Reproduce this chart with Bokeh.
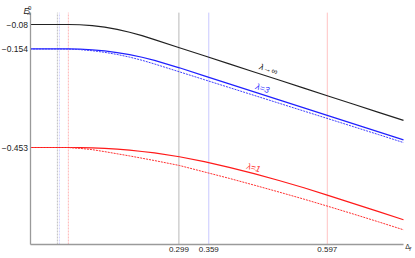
from bokeh.plotting import figure
from bokeh.models import Range1d, FixedTicker, Label
from bokeh.core.properties import value
from bokeh.embed import file_html
from bokeh.resources import INLINE

# ---- data ----
delta_f = [0, 0.055, 0.077, 0.1, 0.125, 0.15, 0.175, 0.2, 0.225, 0.25, 0.3, 0.35, 0.4, 0.45, 0.5, 0.55, 0.6, 0.65, 0.7, 0.75]
e_inf = [-0.08, -0.08, -0.08, -0.0808, -0.0836, -0.0882, -0.0948, -0.1034, -0.1139, -0.1259, -0.1504, -0.1749,
         -0.1994, -0.2239, -0.2484, -0.2729, -0.2974, -0.3219, -0.3464, -0.3709]
e_3 = [-0.154, -0.154, -0.154, -0.1546, -0.1567, -0.1602, -0.1651, -0.1715, -0.1793, -0.1886, -0.2113, -0.2356,
       -0.2599, -0.2842, -0.3085, -0.3328, -0.3571, -0.3814, -0.4057, -0.43]
e_3_dash = [-0.154, -0.154, -0.1544, -0.1561, -0.1595, -0.1644, -0.1708, -0.1789, -0.1885, -0.1997, -0.2235, -0.2473,
            -0.2711, -0.2949, -0.3187, -0.3425, -0.3663, -0.3901, -0.4139, -0.438]
e_1 = [-0.453, -0.453, -0.453, -0.4533, -0.4542, -0.4557, -0.4578, -0.461, -0.465, -0.469, -0.481, -0.496,
       -0.513, -0.532, -0.553, -0.575, -0.599, -0.623, -0.6475, -0.672]
e_1_dash = [-0.453, -0.453, -0.453, -0.4555, -0.4595, -0.4655, -0.472, -0.4785, -0.4855, -0.4925, -0.5075, -0.527,
            -0.5465, -0.567, -0.588, -0.6095, -0.632, -0.655, -0.6785, -0.7025]

y_ticks = [-0.08, -0.154, -0.453]
y_tick_labels = ["\u22120.08", "\u22120.154", "\u22120.453"]
x_ticks = [0.299, 0.359, 0.597]
x_tick_labels = ["0.299", "0.359", "0.597"]

x_axis_extent = [0, 0.75]
y_axis_extent = [-0.747, -0.044]

solid_marks = [0.299, 0.359, 0.597]
solid_mark_colors = ["#b8b8b8", "#c8c8ff", "#ffc4c4"]
dotted_marks = [0.055, 0.059, 0.077]
dotted_mark_colors = ["#c0c0c0", "#d0d0ff", "#ffb4b4"]

curve_labels = ["\u03bb\u2192\u221e", "\u03bb=3", "\u03bb=1"]
label_x = [0.479, 0.467, 0.449]
label_y = [-0.215, -0.273, -0.514]
label_angle = [-0.32, -0.32, -0.25]
label_colors = ["#222222", "#3333ff", "#ff2a2a"]

FONT = "Liberation Sans"
X0, X1 = -29.5 / 498, 385.5 / 498
Y1, Y0 = -0.08 + 24 / 329.8, -0.08 - 234 / 329.8

p = figure(width=415, height=258, x_range=Range1d(X0, X1), y_range=Range1d(Y0, Y1),
           output_backend="svg", toolbar_location=None, min_border=0,
           min_border_left=0, min_border_right=0, min_border_top=0, min_border_bottom=0)
p.outline_line_color = None
p.xgrid.visible = False
p.ygrid.visible = False
p.background_fill_color = "white"
p.border_fill_color = "white"

p.xaxis[0].fixed_location = y_axis_extent[0]
p.yaxis[0].fixed_location = x_axis_extent[0]
p.xaxis[0].bounds = tuple(x_axis_extent)
p.yaxis[0].bounds = tuple(y_axis_extent)

for ax, ticks, labels, standoff, fs in ((p.xaxis[0], x_ticks, x_tick_labels, 3, "8px"),
                                        (p.yaxis[0], y_ticks, y_tick_labels, 2, "8.5px")):
    ax.ticker = FixedTicker(ticks=ticks)
    ax.major_label_overrides = {t: l for t, l in zip(ticks, labels)}
    ax.axis_line_color = "#9a9a9a"
    ax.axis_line_width = 1.3
    ax.major_tick_in = 0
    ax.major_tick_out = 0
    ax.minor_tick_in = 0
    ax.minor_tick_out = 0
    ax.major_label_standoff = standoff
    ax.major_label_text_font = FONT
    ax.major_label_text_font_size = fs
    ax.major_label_text_color = "#222222"

n1 = len(solid_marks)
p.segment(x0=solid_marks, x1=solid_marks, y0=[y_axis_extent[0]] * n1, y1=[y_axis_extent[1]] * n1,
          line_color=solid_mark_colors, line_width=1)
n2 = len(dotted_marks)
p.segment(x0=dotted_marks, x1=dotted_marks, y0=[y_axis_extent[0]] * n2, y1=[y_axis_extent[1]] * n2,
          line_color=dotted_mark_colors, line_width=1, line_dash="2 1")

p.line(delta_f, e_inf, line_color="#222222", line_width=1.2)
p.line(delta_f, e_3, line_color="#2020ff", line_width=1.2)
p.line(delta_f, e_3_dash, line_color="#4040ff", line_width=1, line_dash="2 1")
p.line(delta_f, e_1, line_color="#ff1a1a", line_width=1.2)
p.line(delta_f, e_1_dash, line_color="#ff3030", line_width=1, line_dash="2 1")

p.text(x=label_x, y=label_y, text=curve_labels, angle=label_angle, text_color=label_colors,
       text_font=value(FONT), text_font_style="italic", text_font_size="8.5px",
       text_align="center", text_baseline="middle")

# axis titles: E_lambda^0 and Delta_f
xa, ya = x_axis_extent[0], y_axis_extent[1]
p.add_layout(Label(x=xa, y=ya, x_offset=-6.5, y_offset=1.5, text="E", text_font=FONT, text_font_style="italic",
                   text_font_size="9px", text_color="#222222", text_baseline="alphabetic", text_align="left"))
p.add_layout(Label(x=xa, y=ya, x_offset=-2, y_offset=5, text="0", text_font=FONT,
                   text_font_size="6px", text_color="#222222", text_baseline="alphabetic", text_align="left"))
p.add_layout(Label(x=xa, y=ya, x_offset=-2.5, y_offset=-0.5, text="\u03bb", text_font=FONT, text_font_style="italic",
                   text_font_size="6px", text_color="#222222", text_baseline="alphabetic", text_align="left"))
xb, yb = x_axis_extent[1], y_axis_extent[0]
p.add_layout(Label(x=xb, y=yb, x_offset=1.7, y_offset=-2, text="\u0394", text_font=FONT,
                   text_font_size="7px", text_color="#222222", text_baseline="alphabetic", text_align="left"))
p.add_layout(Label(x=xb, y=yb, x_offset=5.7, y_offset=-4.3, text="f", text_font=FONT, text_font_style="italic",
                   text_font_size="6px", text_color="#222222", text_baseline="alphabetic", text_align="left"))

open("out.html", "w").write(file_html(p, INLINE))
